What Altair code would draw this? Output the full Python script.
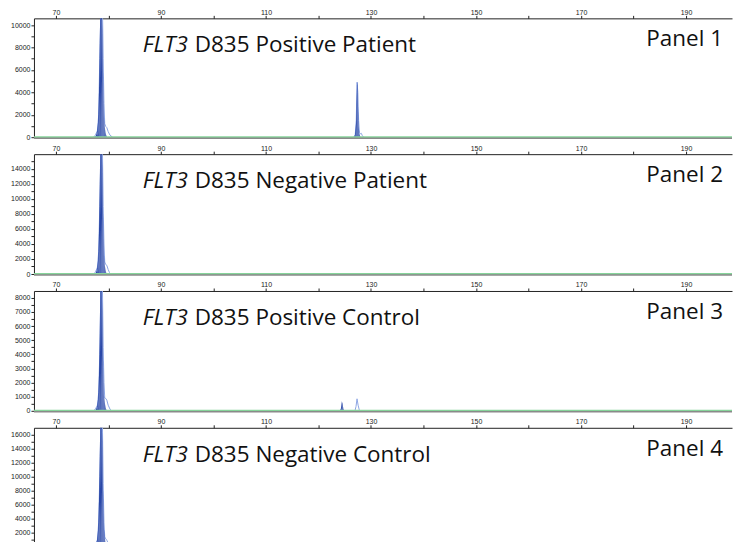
import altair as alt
import pandas as pd

# ---------------- data ----------------
X_DOMAIN = [65.82, 198.76]
x_tick_values = [70, 80, 90, 100, 110, 120, 130, 140, 150, 160, 170, 180, 190]
x_label_values = [70, 90, 110, 130, 150, 170, 190]

panel_titles = ["Positive Patient", "Negative Patient", "Positive Control", "Negative Control"]
panel_names = ["Panel 1", "Panel 2", "Panel 3", "Panel 4"]
y_max = [10600, 15950, 8480, 17000]
y_tick_values = [
    [0, 1000, 2000, 3000, 4000, 5000, 6000, 7000, 8000, 9000, 10000],
    [0, 1000, 2000, 3000, 4000, 5000, 6000, 7000, 8000, 9000, 10000, 11000, 12000, 13000, 14000, 15000],
    [0, 500, 1000, 1500, 2000, 2500, 3000, 3500, 4000, 4500, 5000, 5500, 6000, 6500, 7000, 7500, 8000],
    [0, 1000, 2000, 3000, 4000, 5000, 6000, 7000, 8000, 9000, 10000, 11000, 12000, 13000, 14000, 15000, 16000],
]
y_label_values = [
    [0, 2000, 4000, 6000, 8000, 10000],
    [0, 2000, 4000, 6000, 8000, 10000, 12000, 14000],
    [0, 1000, 2000, 3000, 4000, 5000, 6000, 7000, 8000],
    [2000, 4000, 6000, 8000, 10000, 12000, 14000, 16000],   # 0 lies below the picture's edge
]

# Panel 1 -- main peak (dark fill) and light trace, second peak at ~127.4
p1_dark_a_x = [77.3, 77.6, 77.85, 78.05, 78.2, 78.35, 78.45, 78.7, 78.85, 78.95, 79.05, 79.15, 79.3, 79.45, 79.6, 79.75]
p1_dark_a_y = [0, 100, 500, 1500, 4000, 8500, 11500, 11500, 9500, 6500, 3500, 1800, 900, 400, 150, 0]
p1_light_a_x = [77.1, 77.5, 77.9, 78.15, 78.35, 78.6, 78.85, 79.0, 79.15, 79.3, 79.5, 79.7, 79.95, 80.3, 80.8]
p1_light_a_y = [0, 150, 600, 2000, 7000, 12000, 12000, 7000, 3000, 1200, 950, 850, 500, 180, 0]
p1_dark_b_x = [126.8, 127.0, 127.15, 127.25, 127.35, 127.45, 127.55, 127.65, 127.8, 128.0]
p1_dark_b_y = [0, 300, 1200, 3000, 5000, 4600, 2500, 1000, 300, 0]
p1_light_b_x = [126.7, 127.0, 127.2, 127.35, 127.5, 127.65, 127.8, 128.0, 128.15, 128.35, 128.6]
p1_light_b_y = [0, 200, 1500, 4900, 4000, 1500, 400, 300, 350, 150, 0]

# Panel 2
p2_dark_x = [77.3, 77.6, 77.85, 78.05, 78.2, 78.35, 78.45, 78.7, 78.85, 78.95, 79.05, 79.15, 79.3, 79.45, 79.6, 79.75]
p2_dark_y = [0, 150, 700, 2000, 5500, 12000, 17000, 17000, 14000, 9000, 5000, 2500, 1200, 500, 150, 0]
p2_light_x = [77.1, 77.5, 77.9, 78.15, 78.35, 78.6, 78.85, 79.0, 79.15, 79.3, 79.5, 79.7, 79.95, 80.2, 80.4]
p2_light_y = [0, 200, 900, 3000, 9000, 17000, 17000, 9000, 4000, 1600, 1250, 1150, 600, 200, 0]

# Panel 3
p3_dark_a_x = [77.3, 77.6, 77.85, 78.05, 78.2, 78.35, 78.45, 78.7, 78.85, 78.95, 79.05, 79.15, 79.3, 79.45, 79.6, 79.75]
p3_dark_a_y = [0, 80, 300, 900, 2500, 5500, 9000, 9000, 7000, 4000, 2200, 1100, 600, 250, 80, 0]
p3_light_a_x = [77.1, 77.5, 77.9, 78.15, 78.35, 78.6, 78.85, 79.0, 79.15, 79.3, 79.5, 79.7, 79.95, 80.3, 80.6]
p3_light_a_y = [0, 100, 400, 1300, 4000, 9000, 9000, 4500, 2000, 900, 870, 750, 400, 120, 0]
p3_dark_b_x = [124.1, 124.3, 124.45, 124.6, 124.75, 124.9]
p3_dark_b_y = [0, 200, 670, 500, 150, 0]
p3_light_b_x = [126.95, 127.15, 127.35, 127.55, 127.75, 127.9]
p3_light_b_y = [0, 300, 850, 400, 100, 0]

# Panel 4
p4_dark_x = [77.3, 77.6, 77.85, 78.05, 78.2, 78.35, 78.45, 78.7, 78.85, 78.95, 79.05, 79.15, 79.3, 79.45, 79.6, 79.75]
p4_dark_y = [0, 200, 900, 2600, 6500, 13000, 18000, 18000, 15000, 9000, 5000, 2600, 1300, 500, 150, 0]
p4_light_x = [77.1, 77.5, 77.9, 78.15, 78.35, 78.6, 78.85, 79.0, 79.15, 79.3, 79.5, 79.7, 79.95, 80.3, 80.6]
p4_light_y = [0, 250, 1000, 3500, 10000, 18000, 18000, 9000, 3500, 1400, 1100, 900, 500, 150, 0]

panel_traces = [
    [("dark", p1_dark_a_x, p1_dark_a_y), ("light", p1_light_a_x, p1_light_a_y),
     ("dark", p1_dark_b_x, p1_dark_b_y), ("light", p1_light_b_x, p1_light_b_y)],
    [("dark", p2_dark_x, p2_dark_y), ("light", p2_light_x, p2_light_y)],
    [("dark", p3_dark_a_x, p3_dark_a_y), ("light", p3_light_a_x, p3_light_a_y),
     ("dark", p3_dark_b_x, p3_dark_b_y), ("light", p3_light_b_x, p3_light_b_y)],
    [("dark", p4_dark_x, p4_dark_y), ("light", p4_light_x, p4_light_y)],
]

# ---------------- styles ----------------
DARK = "#2a48a8"
LIGHT = "#8ea6e4"
GREEN = "#86d49a"
AXIS_COL = "#222"
WIDTH = 699
HEIGHTS = [119, 120, 120, 119]
TXT_FONT = "Open Sans"
TICK_FONT = "Liberation Sans"


def in_list_expr(vals):
    return "indexof([" + ",".join(str(v) for v in vals) + "], datum.value) >= 0"


def make_panel(i):
    rows = []
    for s, (series, xs, ys) in enumerate(panel_traces[i]):
        for k, (xv, yv) in enumerate(zip(xs, ys)):
            rows.append({"series": series, "seg": s, "k": k, "x": xv, "y": yv})
    df = pd.DataFrame(rows)
    h = HEIGHTS[i]
    ymax = y_max[i]

    xscale = alt.Scale(domain=X_DOMAIN, nice=False, zero=False)
    yscale = alt.Scale(domain=[0, ymax], nice=False)
    xaxis = alt.Axis(orient="top", values=x_tick_values, tickCount=100, title=None,
                     labelExpr=f"{in_list_expr(x_label_values)} ? datum.label : ''",
                     labelFont=TICK_FONT, labelFontSize=7, labelColor=AXIS_COL,
                     labelPadding=0, tickSize=3, tickColor=AXIS_COL, domainColor=AXIS_COL,
                     grid=False, labelFlush=False, labelOverlap=False)
    yaxis = alt.Axis(values=y_tick_values[i], tickCount=100, title=None, format="d",
                     labelExpr=f"{in_list_expr(y_label_values[i])} ? datum.label : ''",
                     labelFont=TICK_FONT, labelFontSize=7, labelColor=AXIS_COL,
                     labelPadding=1, tickSize=3, tickColor=AXIS_COL, domainColor=AXIS_COL,
                     grid=False, minExtent=26, maxExtent=26, labelFlush=False,
                     labelOverlap=False)

    base = alt.Chart(df)
    line = base.transform_filter(alt.datum.series == "light").mark_line(
        color=LIGHT, clip=True, strokeWidth=1
    ).encode(
        x=alt.X("x:Q", scale=xscale, axis=xaxis),
        y=alt.Y("y:Q", scale=yscale, axis=yaxis),
        detail="seg:N",
        order="k:Q",
    )
    area = base.transform_filter(alt.datum.series == "dark").mark_area(
        color=DARK, clip=True, interpolate="linear", opacity=1
    ).encode(
        x=alt.X("x:Q", scale=xscale),
        y=alt.Y("y:Q", scale=yscale),
        detail="seg:N",
        order="k:Q",
    )
    green = alt.Chart(pd.DataFrame({"y": [0]})).mark_rule(
        color=GREEN, strokeWidth=2
    ).encode(y=alt.Y("y:Q", scale=yscale))
    bottom = alt.Chart(pd.DataFrame({"y": [0]})).mark_rule(
        color="#8a8a8a", strokeWidth=1.5
    ).encode(x=alt.value(0), x2=alt.value(WIDTH), y=alt.value(h + 1))

    tdf = pd.DataFrame({"a": ["FLT3"], "b": ["D835 " + panel_titles[i]], "c": [panel_names[i]]})
    t1 = alt.Chart(tdf).mark_text(
        font=TXT_FONT, fontSize=22.5, fontStyle="italic", align="left", baseline="alphabetic", color="#111"
    ).encode(x=alt.value(109), y=alt.value(34), text="a:N")
    t2 = alt.Chart(tdf).mark_text(
        font=TXT_FONT, fontSize=22.5, align="left", baseline="alphabetic", color="#111"
    ).encode(x=alt.value(161), y=alt.value(34), text="b:N")
    t3 = alt.Chart(tdf).mark_text(
        font=TXT_FONT, fontSize=22.5, align="right", baseline="alphabetic", color="#111"
    ).encode(x=alt.value(690), y=alt.value(28), text="c:N")

    return alt.layer(line, area, green, bottom, t1, t2, t3).properties(width=WIDTH, height=h)


chart = alt.vconcat(*[make_panel(i) for i in range(4)], spacing=4).properties(
    padding=0
).configure_view(stroke=None).configure_concat(spacing=4)

chart.save("out.html", embed_options={"renderer": "svg", "actions": False})
